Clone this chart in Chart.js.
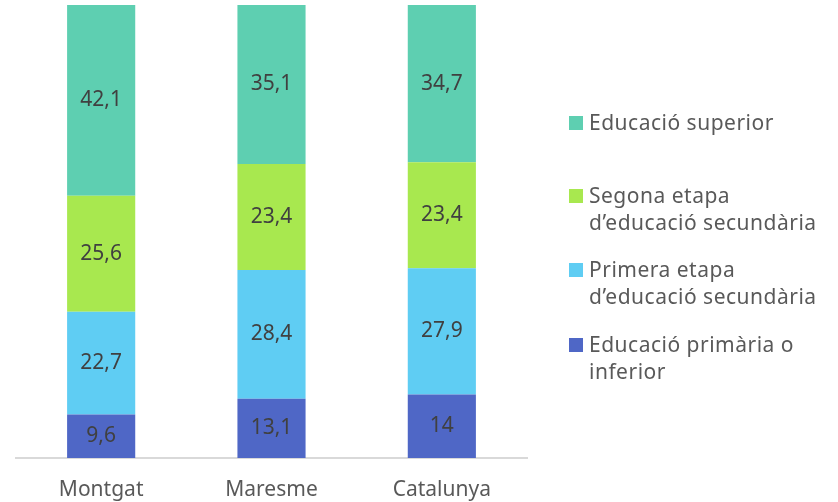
<!DOCTYPE html>
<html>
<head>
<meta charset="utf-8">
<script src="https://cdn.jsdelivr.net/npm/chart.js@4"></script>
<style>
  html, body { margin: 0; padding: 0; background: #fff; }
  #wrap { position: relative; width: 838px; height: 502px; }
  #legend { position: absolute; left: 569px; top: 0; font-family: "Noto Sans", sans-serif; font-size: 21px; letter-spacing: 0.5px; color: #595959; }
  .item { position: absolute; left: 0; width: 268px; line-height: 27px; padding-left: 20px; white-space: nowrap; }
  .item span.box { position: absolute; left: 0; top: 7px; width: 14px; height: 14px; }
</style>
</head>
<body>
<div id="wrap">
  <canvas id="chart" width="838" height="502"></canvas>
  <div id="legend"></div>
</div>
<script>
const categories = ['Montgat', 'Maresme', 'Catalunya'];
const primaria = [9.6, 13.1, 14];
const primera = [22.7, 28.4, 27.9];
const segona = [25.6, 23.4, 23.4];
const superior = [42.1, 35.1, 34.7];

const seriesNames = [
  'Educació primària o inferior',
  'Primera etapa d’educació secundària',
  'Segona etapa d’educació secundària',
  'Educació superior'
];
const colors = ['#4f67c6', '#5fcdf3', '#a8e84f', '#5ecfb1'];

// legend: top item first, lines split like the original
const legendItems = [
  { color: colors[3], lines: ['Educació superior'], top: 109 },
  { color: colors[2], lines: ['Segona etapa', 'd’educació secundària'], top: 182 },
  { color: colors[1], lines: ['Primera etapa', 'd’educació secundària'], top: 256 },
  { color: colors[0], lines: ['Educació primària o', 'inferior'], top: 331 }
];
const legendEl = document.getElementById('legend');
legendItems.forEach(it => {
  const d = document.createElement('div');
  d.className = 'item';
  d.style.top = it.top + 'px';
  d.innerHTML = '<span class="box" style="background:' + it.color + '"></span>' + it.lines.join('<br>');
  legendEl.appendChild(d);
});

const valueLabels = {
  id: 'valueLabels',
  afterDatasetsDraw(chart) {
    const ctx = chart.ctx;
    ctx.save();
    ctx.font = '21px "Noto Sans", sans-serif';
    ctx.fillStyle = '#404040';
    ctx.textAlign = 'center';
    ctx.textBaseline = 'middle';
    chart.data.datasets.forEach((ds, i) => {
      chart.getDatasetMeta(i).data.forEach((bar, j) => {
        const p = bar.getProps(['x', 'y', 'base'], true);
        ctx.fillText(String(ds.data[j]).replace('.', ','), p.x, (p.y + p.base) / 2);
      });
    });
    ctx.restore();
  }
};

const data = [primaria, primera, segona, superior];

new Chart(document.getElementById('chart'), {
  type: 'bar',
  data: {
    labels: categories,
    datasets: data.map((d, i) => ({
      label: seriesNames[i],
      data: d,
      backgroundColor: colors[i],
      borderWidth: 0,
      categoryPercentage: 1,
      barPercentage: 0.4
    }))
  },
  options: {
    responsive: false,
    animation: false,
    layout: { padding: { left: 16, right: 311, top: 5, bottom: 0 } },
    plugins: { legend: { display: false }, tooltip: { enabled: false } },
    scales: {
      x: {
        stacked: true,
        grid: { display: false, drawTicks: false },
        border: { color: '#d9d9d9', width: 2 },
        ticks: { color: '#595959', padding: 19, font: { family: 'Noto Sans', size: 21 } },
        afterFit(scale) { scale.height = 44; }
      },
      y: {
        stacked: true,
        display: false,
        min: 0,
        max: 100
      }
    }
  },
  plugins: [valueLabels]
});
</script>
</body>
</html>
